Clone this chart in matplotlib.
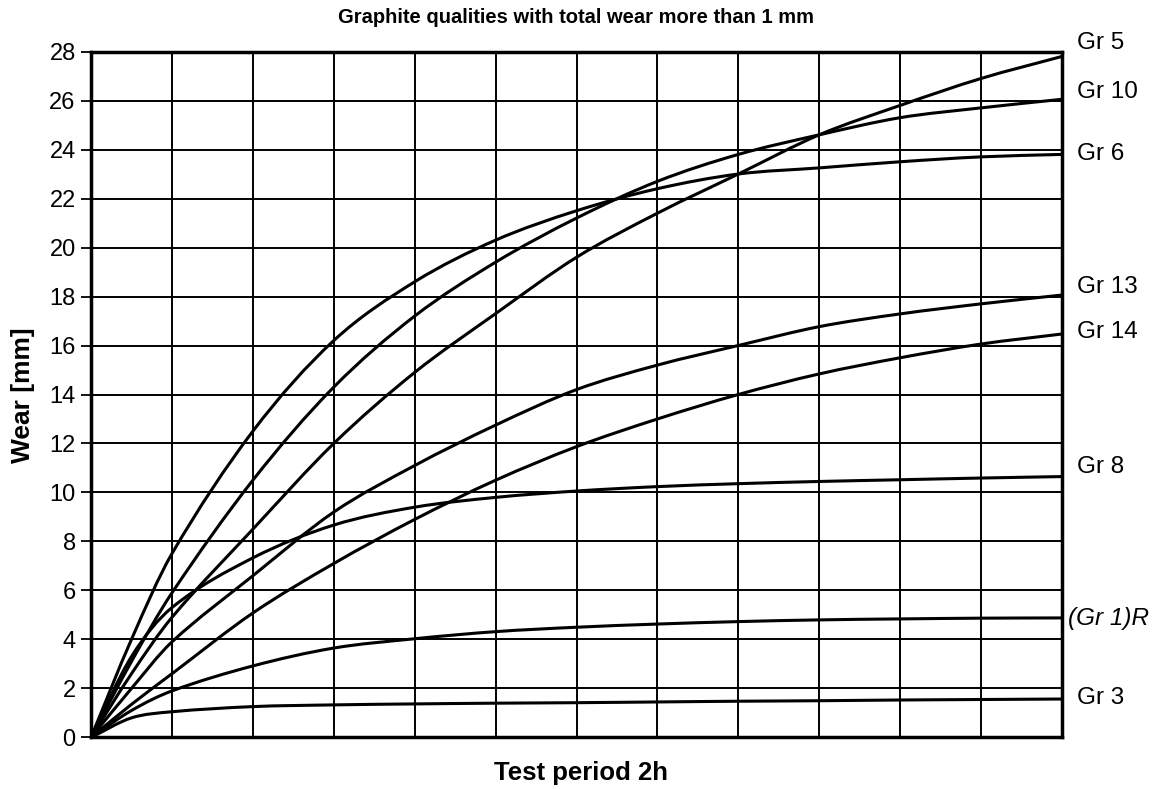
import matplotlib
matplotlib.use("Agg")
import matplotlib.pyplot as plt
from matplotlib.path import Path
from matplotlib.patches import PathPatch

plt.rcParams['font.family'] = ['Liberation Sans', 'DejaVu Sans']

# test period (grid steps), wear [mm]
period = [0, 0.5, 1, 2, 3, 4, 5, 6, 7, 8, 9, 10, 11, 12]

gr5 = [0, 2.6, 4.9, 8.5, 12.0, 14.9, 17.3, 19.6, 21.4, 23.0, 24.6, 25.8, 26.9, 27.8]
gr10 = [0, 3.1, 5.9, 10.5, 14.3, 17.2, 19.4, 21.2, 22.7, 23.8, 24.6, 25.3, 25.7, 26.05]
gr6 = [0, 4.0, 7.5, 12.5, 16.2, 18.6, 20.3, 21.5, 22.4, 23.0, 23.25, 23.5, 23.7, 23.8]
gr13 = [0, 2.0, 3.9, 6.6, 9.2, 11.1, 12.75, 14.2, 15.2, 16.0, 16.77, 17.29, 17.7, 18.06]
gr14 = [0, 1.35, 2.6, 5.08, 7.1, 8.9, 10.5, 11.87, 13.0, 14.0, 14.84, 15.5, 16.06, 16.47]
gr8 = [0, 3.3, 5.3, 7.33, 8.67, 9.4, 9.8, 10.06, 10.24, 10.36, 10.45, 10.52, 10.59, 10.65]
gr1r = [0, 1.1, 1.9, 2.92, 3.65, 4.03, 4.32, 4.5, 4.63, 4.73, 4.8, 4.84, 4.87, 4.88]
gr3 = [0, 0.8, 1.05, 1.26, 1.33, 1.37, 1.40, 1.42, 1.45, 1.48, 1.5, 1.53, 1.55, 1.57]

series = [gr5, gr10, gr6, gr13, gr14, gr8, gr1r, gr3]
names = ['Gr 5', 'Gr 10', 'Gr 6', 'Gr 13', 'Gr 14', 'Gr 8', '(Gr 1)R', 'Gr 3']
label_y = [28.35, 26.35, 23.8, 18.4, 16.55, 11.05, 4.86, 1.6]


def smooth_path(xs, ys):
    # smoothed line through the points (cubic hermite as bezier segments)
    n = len(xs)
    slopes = []
    for i in range(n):
        a = max(i - 1, 0)
        b = min(i + 1, n - 1)
        slopes.append((ys[b] - ys[a]) / (xs[b] - xs[a]))
    verts = [(xs[0], ys[0])]
    codes = [Path.MOVETO]
    for i in range(n - 1):
        h = (xs[i + 1] - xs[i]) / 3
        verts += [(xs[i] + h, ys[i] + h * slopes[i]),
                  (xs[i + 1] - h, ys[i + 1] - h * slopes[i + 1]),
                  (xs[i + 1], ys[i + 1])]
        codes += [Path.CURVE4] * 3
    return Path(verts, codes)


fig = plt.figure(figsize=(11.65, 7.89), dpi=100)
ax = fig.add_axes([0.0781, 0.0653, 0.8335, 0.8694])

for s in series:
    ax.add_patch(PathPatch(smooth_path(period, s), fill=False, ec='black', lw=2.2,
                           capstyle='round', zorder=3))

ax.set_xlim(0, 12)
ax.set_ylim(0, 28)
ax.set_xticks(range(13))
ax.set_xticklabels([])
ax.set_yticks(range(0, 29, 2))
ax.tick_params(axis='x', length=0)
ax.tick_params(axis='y', length=7, width=1.3, labelsize=17, pad=4)
ax.grid(True, color='black', lw=1.4)
for sp in ax.spines.values():
    sp.set_linewidth(2.5)

for name, y in zip(names, label_y):
    if name.startswith('('):
        ax.text(12.07, y, name, fontsize=17.5, style='italic', va='center', ha='left', clip_on=False)
    else:
        ax.text(12.19, y, name, fontsize=17.5, va='center', ha='left', clip_on=False)

fig.text(0.4948, 0.978, 'Graphite qualities with total wear more than 1 mm',
         fontsize=14.5, fontweight='bold', ha='center', va='center')
fig.text(0.4985, 0.02, 'Test period 2h', fontsize=18.5, fontweight='bold', ha='center', va='center')
fig.text(0.02, 0.4995, 'Wear [mm]', fontsize=19, fontweight='bold', rotation=90, ha='center', va='center')

fig.savefig('out.png', dpi=100)
